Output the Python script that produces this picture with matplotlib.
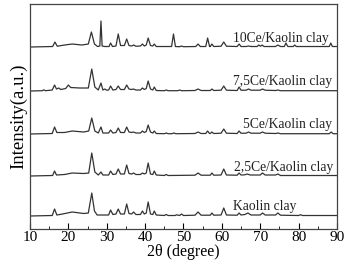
import matplotlib
matplotlib.use('Agg')
import matplotlib.pyplot as plt
from matplotlib.ticker import MultipleLocator

# XRD traces: 2theta points and intensity above baseline
kaolin_x = [10, 15.8, 16.4, 17.0, 18.5, 21, 24, 25.2, 26.1, 26.8, 27.5, 30.5, 31, 31.6, 32.4, 33, 33.6,
            34.6, 35.2, 35.8, 36.5, 37, 37.6, 38.8, 39.3, 39.8, 40.3, 40.8, 41.4, 42.0, 42.4, 42.9,
            45, 45.5, 46, 47.8, 48.2, 49, 49.5, 50, 53, 53.8, 54.6, 57, 57.4, 57.9, 59.8, 60.5, 61.2,
            64, 64.5, 65, 66, 66.8, 67.6, 70, 70.6, 71.3, 74, 74.6, 75.3, 80, 80.5, 81, 90]
kaolin_y = [0, 0.5, 7, 1, 2, 4, 2.5, 3, 23, 5, 1, 1, 6, 1.5, 2, 7, 2,
            2, 12, 2.5, 2, 4, 1.5, 1.5, 5, 2, 3, 14, 2, 1.5, 5, 1,
            0.5, 1.5, 0.5, 0.5, 1.2, 0.5, 2, 0.5, 0.8, 4, 0.8, 0.8, 3, 0.8, 1, 8, 1,
            0.8, 3, 1, 1.5, 3, 1, 1, 3, 1, 1, 3, 0.8, 0.5, 1.3, 0.5, 0.5]

ce25_x = [10, 15.9, 16.4, 16.9, 19, 21, 24, 25.3, 26.1, 26.9, 27.8, 28.5, 29, 30.5, 31, 31.6, 32.4,
          33, 33.6, 34.6, 35.2, 35.8, 36.5, 37, 37.6, 38.8, 39.3, 39.8, 40.3, 40.8, 41.4, 42, 42.4,
          42.9, 45, 45.5, 46, 53, 53.8, 54.6, 57, 57.4, 57.9, 59.8, 60.5, 61.2, 64, 64.5, 65, 66,
          66.6, 67.4, 70, 70.6, 71.3, 74, 74.6, 75.3, 90]
ce25_y = [0, 0.5, 5, 1, 1.5, 3, 2.5, 3, 23, 4, 1, 4, 1, 1, 5, 1.5, 2,
          7, 2, 2, 11, 2.5, 2, 3, 1.5, 1.5, 3, 2, 3, 13, 2, 1.5, 5,
          1, 0.5, 1.5, 0.5, 0.8, 3, 0.8, 0.8, 3, 0.8, 1, 7, 1, 0.8, 3, 1, 1.2,
          2, 1, 1, 3, 1, 1, 2, 0.5, 0.5]

ce5_x = [10, 15.8, 16.4, 17, 19, 21, 24, 25.3, 26.1, 26.9, 27.8, 28.5, 29, 30.5, 31, 31.6, 32.4,
         33, 33.6, 34.6, 35.2, 35.8, 36.5, 37, 37.6, 38.8, 39.3, 39.8, 40.3, 40.8, 41.4, 42, 42.4,
         42.9, 45, 45.5, 46, 47, 47.5, 48, 53, 53.8, 54.6, 55.8, 56.3, 56.8, 57, 57.4, 57.9, 59.8,
         60.5, 61.2, 64, 64.5, 65, 66.3, 67, 67.6, 70, 70.6, 71.3, 74, 74.6, 75.3, 88, 88.5, 89, 90]
ce5_y = [0, 0.5, 7, 1.5, 1.5, 3, 2, 3, 16, 3, 1, 7, 1, 1, 4, 1, 1.5,
         6, 1.5, 1.5, 7, 2, 1.5, 2, 1, 1, 3, 1.5, 2.5, 9, 2, 1, 3,
         0.5, 0.3, 1, 0.3, 0.3, 1, 0.3, 0.5, 2, 0.5, 0.5, 3, 0.5, 0.5, 2, 0.5, 0.8,
         5, 0.8, 0.5, 3, 0.8, 0.8, 2, 0.8, 0.8, 2, 0.8, 0.5, 1, 0.3, 0.3, 2, 0.3, 0.3]

ce75_x = [10, 13.2, 13.6, 14, 15.8, 16.4, 16.9, 17.5, 18, 19.3, 20, 20.6, 23, 25.2, 26.1, 26.9, 27.8,
          28.5, 29, 29.5, 30, 30.5, 31, 31.6, 32.4, 33, 33.6, 34.6, 35.2, 35.8, 36.5, 37, 37.6,
          38.8, 39.3, 39.8, 40.3, 40.8, 41.4, 42, 42.4, 42.9, 45, 45.5, 46, 48.5, 49, 49.5, 53,
          53.8, 54.6, 57, 57.4, 57.9, 59.8, 60.5, 61.2, 64, 64.5, 65, 66.3, 67, 67.6, 70, 70.6,
          71.3, 74, 74.6, 75.3, 90]
ce75_y = [0, 0.3, 1.2, 0.3, 1, 6, 2, 3, 1.5, 2.5, 6, 3.5, 3, 3, 22, 4, 1,
          8, 1, 2, 0.8, 1, 5, 1, 1.5, 5, 1.5, 1.5, 6, 2, 1.5, 2, 1,
          1, 3, 1.5, 2.5, 10, 2, 1, 4, 0.5, 0.3, 1, 0.3, 0.3, 1, 0.3, 0.5,
          2, 0.5, 0.5, 2, 0.5, 0.8, 5, 0.8, 0.5, 4, 0.8, 0.8, 2, 0.8, 0.8, 2,
          0.8, 0.5, 1, 0.3, 0.3]

ce10_x = [10, 15.9, 16.5, 17.1, 19, 21, 23.5, 25.2, 26, 26.8, 27.6, 28.2, 28.5, 28.8, 29.5, 30.6, 31,
          31.5, 32.4, 33, 33.6, 34.6, 35.2, 35.8, 36.5, 37, 37.6, 38.8, 39.3, 39.8, 40.3, 40.8,
          41.4, 42, 42.4, 42.9, 46.9, 47.4, 47.9, 49, 49.5, 50, 53.2, 53.8, 54.4, 55.8, 56.3, 56.8,
          57, 57.4, 57.9, 59.8, 60.5, 61.2, 64, 64.5, 65, 66.3, 67, 67.6, 69.2, 69.6, 70.1, 70.5,
          71, 74, 74.6, 75.3, 76.3, 76.7, 77.2, 78.6, 79, 79.4, 88, 88.4, 88.8, 90]
ce10_y = [0, 0.5, 5, 0.8, 2, 3, 2, 3, 15, 3, 0.5, 1, 26, 1, 0.5, 0.5, 4,
          0.5, 1, 13, 1.5, 1.5, 8, 1.5, 1, 2, 0.8, 1, 3, 1, 2, 9,
          1.5, 1, 3, 0.5, 0.5, 13, 0.5, 0.3, 1, 0.3, 0.5, 3, 0.5, 0.5, 9, 0.5,
          0.5, 3, 0.5, 0.8, 5, 0.8, 0.5, 3, 0.5, 0.5, 1, 0.5, 0.5, 2, 0.8, 2,
          0.5, 0.5, 2, 0.5, 0.5, 4, 0.5, 0.5, 2, 0.5, 0.5, 4, 0.5, 0.5]

labels = ['Kaolin clay', '2,5Ce/Kaolin clay', '5Ce/Kaolin clay', '7,5Ce/Kaolin clay', '10Ce/Kaolin clay']
offsets = [13, 53, 95, 138, 182]
label_x = [63, 63.2, 65.5, 62.9, 62.9]
label_y = [16, 55, 98, 141, 184]

plt.rcParams['font.family'] = ['Liberation Serif', 'DejaVu Serif']

fig = plt.figure(figsize=(3.48, 2.61), dpi=100)
ax = fig.add_axes([0.0862, 0.1226, 0.882, 0.862])

traces = [(kaolin_x, kaolin_y), (ce25_x, ce25_y), (ce5_x, ce5_y), (ce75_x, ce75_y), (ce10_x, ce10_y)]
for (xs, ys), off, lab, lx, ly in zip(traces, offsets, labels, label_x, label_y):
    ax.plot(xs, [v + off for v in ys], color='#333333', lw=0.9)
    ax.text(lx, ly, lab, fontsize=9.8, va='bottom', ha='left', color='#222222')

ax.set_xlim(10, 90)
ax.set_ylim(0, 225)
ax.xaxis.set_major_locator(MultipleLocator(10))
ax.xaxis.set_minor_locator(MultipleLocator(5))
ax.tick_params(axis='x', which='both', direction='in', labelsize=11, pad=1.5)
ax.tick_params(axis='x', which='major', length=4)
ax.tick_params(axis='x', which='minor', length=2)
ax.set_yticks([])
for s in ax.spines.values():
    s.set_color('#444444')
    s.set_linewidth(0.9)
ax.set_xlabel('2\u03b8 (degree)', fontsize=11.5, labelpad=0)
ax.set_ylabel('Intensity(a.u.)', fontsize=13.5, labelpad=2)

fig.savefig('out.png', dpi=100)
